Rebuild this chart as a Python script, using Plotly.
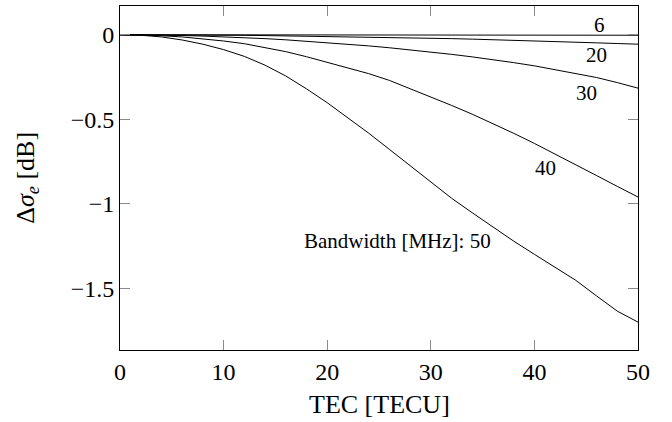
import plotly.graph_objects as go

tec = [0, 2, 4, 6, 8, 10, 12, 14, 16, 18, 20, 22, 24, 26, 28, 30, 32, 34, 36, 38, 40, 42, 44, 46, 48, 50]

bw6 = [0, 0, 0, 0, 0, 0, 0, 0, 0, 0, 0, -0.0005, -0.0005, -0.001, -0.001, -0.001,
       -0.0015, -0.0015, -0.002, -0.002, -0.002, -0.0025, -0.0025, -0.003, -0.003, -0.003]
bw20 = [0, 0, -0.0003, -0.0008, -0.0015, -0.0025, -0.0035, -0.005, -0.0065, -0.008, -0.0095,
        -0.0115, -0.0135, -0.0155, -0.018, -0.0205, -0.023, -0.026, -0.029, -0.0325, -0.036,
        -0.040, -0.044, -0.048, -0.052, -0.056]
bw30 = [0, -0.0005, -0.002, -0.0045, -0.008, -0.012, -0.017, -0.023, -0.030, -0.038, -0.047,
        -0.056, -0.066, -0.077, -0.089, -0.102, -0.116, -0.131, -0.147, -0.165, -0.184,
        -0.206, -0.228, -0.253, -0.283, -0.316]
bw40 = [0, -0.0015, -0.006, -0.013, -0.024, -0.037, -0.053, -0.075, -0.100, -0.130, -0.162,
        -0.195, -0.230, -0.270, -0.318, -0.368, -0.418, -0.470, -0.525, -0.583, -0.643,
        -0.705, -0.768, -0.833, -0.897, -0.960]
bw50 = [0, -0.003, -0.013, -0.031, -0.056, -0.088, -0.128, -0.180, -0.244, -0.320, -0.402,
        -0.490, -0.582, -0.678, -0.776, -0.873, -0.967, -1.053, -1.139, -1.221, -1.299,
        -1.377, -1.453, -1.545, -1.635, -1.700]

series = [("6", bw6), ("20", bw20), ("30", bw30), ("40", bw40), ("50", bw50)]

labels = ["6", "20", "30", "40", "Bandwidth [MHz]: 50"]
label_x = [46.3, 46.0, 45.0, 41.1, 26.8]
label_y = [0.056, -0.121, -0.344, -0.79, -1.22]

xticks = [0, 10, 20, 30, 40, 50]
yticks = [0, -0.5, -1, -1.5]
ytick_text = ["0", "\u22120.5", "\u22121", "\u22121.5"]

serif = "Liberation Serif, Times New Roman, serif"

fig = go.Figure()
for name, ys in series:
    fig.add_trace(go.Scatter(x=tec, y=ys, mode="lines", name=name,
                             line=dict(color="black", width=1), showlegend=False))

for t, lx, ly in zip(labels, label_x, label_y):
    fig.add_annotation(x=lx, y=ly, xref="x", yref="y", text=t, showarrow=False,
                       font=dict(family=serif, size=21, color="black"),
                       xanchor="center", yanchor="middle")

fig.add_annotation(x=0.5, y=-0.157, xref="paper", yref="paper", text="TEC [TECU]",
                   showarrow=False, font=dict(family=serif, size=26, color="black"),
                   xanchor="center", yanchor="middle")
fig.add_annotation(x=-0.18, y=0.5, xref="paper", yref="paper",
                   text="\u0394<i>\u03c3</i><sub><i>e</i></sub> [dB]",
                   showarrow=False, textangle=-90,
                   font=dict(family=serif, size=26, color="black"),
                   xanchor="center", yanchor="middle")

axis_common = dict(showgrid=False, zeroline=False, showline=True, linecolor="black",
                   linewidth=1, mirror="ticks", ticks="inside", ticklen=10,
                   tickcolor="#8a8a8a", tickwidth=1,
                   tickfont=dict(family=serif, size=24, color="black"))

fig.update_layout(
    width=672, height=422,
    margin=dict(l=120, r=34, t=6, b=72),
    paper_bgcolor="white", plot_bgcolor="white",
    xaxis=dict(range=[0, 50], tickvals=xticks, ticktext=[str(v) for v in xticks], **axis_common),
    yaxis=dict(range=[-1.865, 0.170], tickvals=yticks, ticktext=ytick_text, **axis_common),
)
fig.write_html("out.html")
